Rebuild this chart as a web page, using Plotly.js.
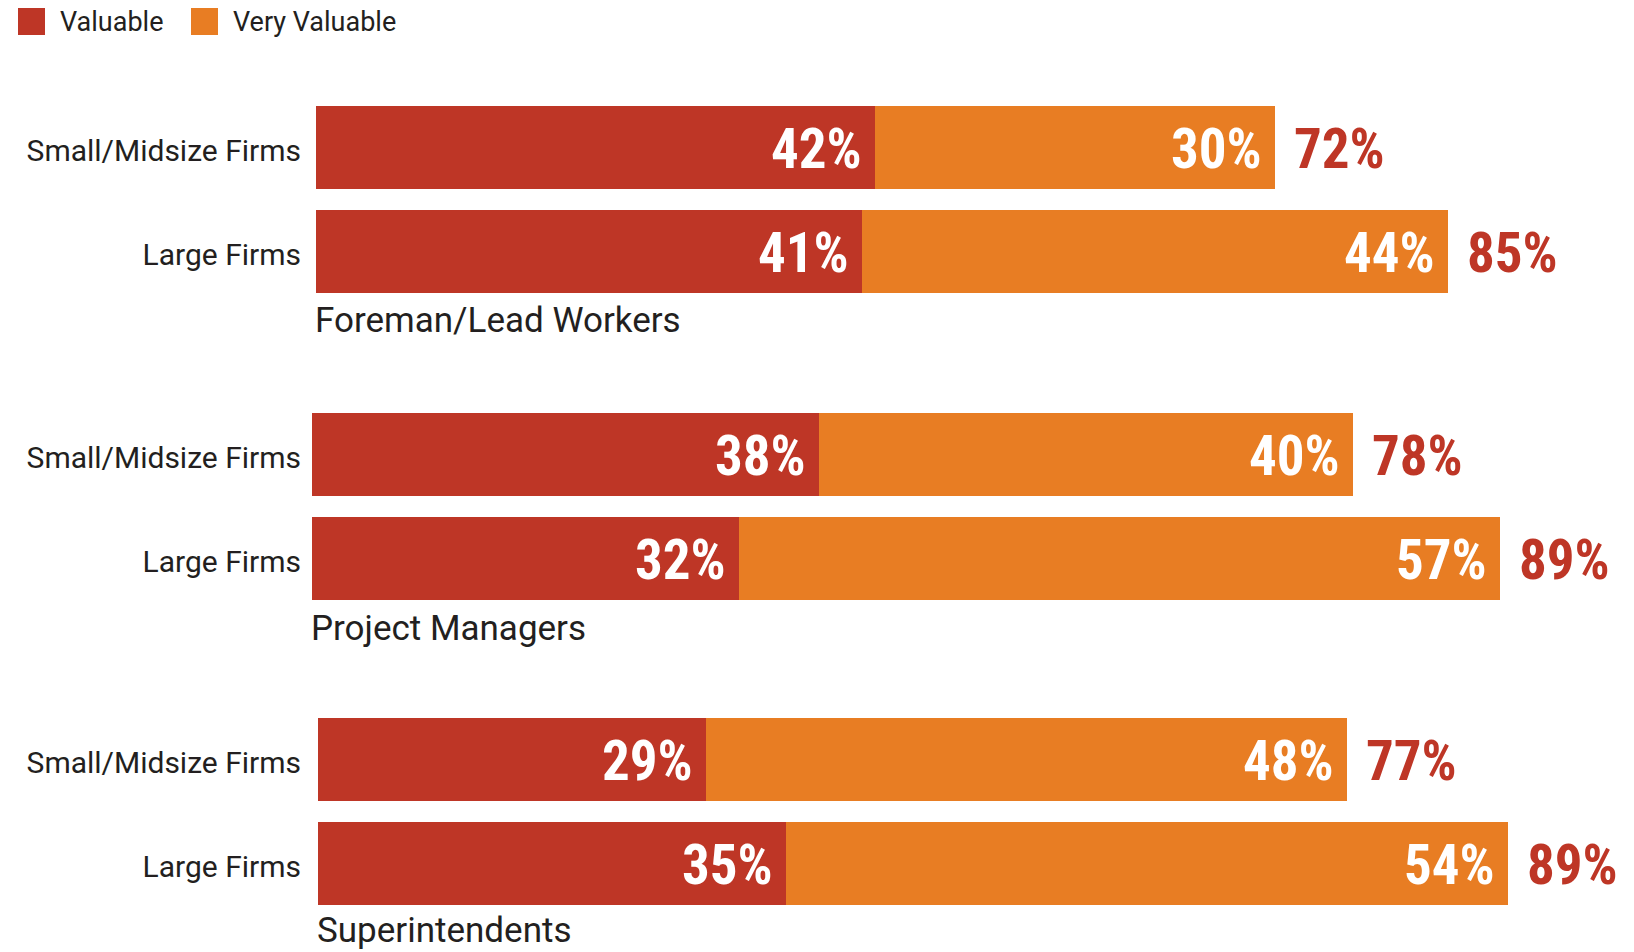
<!DOCTYPE html>
<html>
<head>
<meta charset="utf-8">
<script src="https://cdn.plot.ly/plotly-3.0.1.min.js"></script>
<style>
  html, body { margin: 0; padding: 0; background: #ffffff; }
  #chart { width: 1634px; height: 952px; }
</style>
</head>
<body>
<div id="chart"></div>
<script>
// ---- data ----
const groupNames = ['Foreman/Lead Workers', 'Project Managers', 'Superintendents'];
const firmTypes = ['Small/Midsize Firms', 'Large Firms'];
const seriesNames = ['Valuable', 'Very Valuable'];
const valuableForeman = [42, 41];
const veryValuableForeman = [30, 44];
const valuableProjectManagers = [38, 32];
const veryValuableProjectManagers = [40, 57];
const valuableSuperintendents = [29, 35];
const veryValuableSuperintendents = [48, 54];

// ---- style ----
const W = 1634, H = 952;
const RED = '#BE3626';
const ORANGE = '#E87D23';
const INK = '#231F20';
const textFont = 'Roboto, "Noto Sans", sans-serif';
const numFont = '"Liberation Sans Narrow", "Roboto Condensed", "DejaVu Sans Condensed", sans-serif';
const pxPerUnit = [13.32, 13.35, 13.37];
const xMax = 95;
const groupLeftPx = [316, 312, 318];
const groupTopPx = [95.5, 402.4, 707.4];
const groupHeightPx = 208;
const titleCenterPx = [320, 628, 930];
const standoffs = [14, 10, 16];

const valuableByGroup = [valuableForeman, valuableProjectManagers, valuableSuperintendents];
const veryByGroup = [veryValuableForeman, veryValuableProjectManagers, veryValuableSuperintendents];

const traces = [];
const annotations = [];
const layout = {
  width: W, height: H,
  margin: {l: 0, r: 0, t: 0, b: 0},
  paper_bgcolor: '#ffffff',
  plot_bgcolor: '#ffffff',
  barmode: 'stack',
  bargap: 0.2,
  showlegend: false,
  shapes: [],
  annotations: annotations
};

groupNames.forEach((g, i) => {
  const n = i === 0 ? '' : String(i + 1);
  const xa = 'x' + n, ya = 'y' + n;
  const val = valuableByGroup[i];
  const very = veryByGroup[i];
  traces.push({
    type: 'bar', orientation: 'h', name: seriesNames[0],
    x: val, y: firmTypes, xaxis: xa, yaxis: ya,
    marker: {color: RED, line: {width: 0}},
    hoverinfo: 'x+y+name'
  });
  traces.push({
    type: 'bar', orientation: 'h', name: seriesNames[1],
    x: very, y: firmTypes, xaxis: xa, yaxis: ya,
    marker: {color: ORANGE, line: {width: 0}},
    hoverinfo: 'x+y+name'
  });
  const left = groupLeftPx[i];
  layout['xaxis' + n] = {
    domain: [left / W, (left + xMax * pxPerUnit[i]) / W],
    range: [0, xMax],
    anchor: ya,
    visible: false,
    fixedrange: true
  };
  const top = groupTopPx[i];
  layout['yaxis' + n] = {
    domain: [1 - (top + groupHeightPx) / H, 1 - top / H],
    anchor: xa,
    type: 'category',
    categoryorder: 'array',
    categoryarray: firmTypes,
    range: [1.5, -0.5],
    showgrid: false, zeroline: false, showline: false,
    ticks: '',
    ticklabelstandoff: standoffs[i],
    ticklabelshift: -3,
    tickfont: {family: textFont, size: 30, color: INK},
    fixedrange: true
  };
  firmTypes.forEach((f, j) => {
    const total = val[j] + very[j];
    annotations.push({
      xref: xa, yref: ya, x: val[j], y: f,
      text: val[j] + '%', showarrow: false,
      xanchor: 'right', yanchor: 'middle', xshift: -11, yshift: -2,
      font: {family: numFont, size: 55, color: '#ffffff', weight: 'bold'}
    });
    annotations.push({
      xref: xa, yref: ya, x: total, y: f,
      text: very[j] + '%', showarrow: false,
      xanchor: 'right', yanchor: 'middle', xshift: -11, yshift: -2,
      font: {family: numFont, size: 55, color: '#ffffff', weight: 'bold'}
    });
    annotations.push({
      xref: xa, yref: ya, x: total, y: f,
      text: total + '%', showarrow: false,
      xanchor: 'left', yanchor: 'middle', xshift: 17, yshift: -2,
      font: {family: numFont, size: 55, color: RED, weight: 'bold'}
    });
  });
  annotations.push({
    xref: xa + ' domain', yref: 'paper', x: 0, y: 1 - titleCenterPx[i] / H,
    text: g, showarrow: false, xanchor: 'left', yanchor: 'middle', xshift: -3,
    font: {family: textFont, size: 35, color: INK}
  });
});

// legend (drawn manually for large square swatches)
const legendSwatchX = [18, 191];
const legendColors = [RED, ORANGE];
seriesNames.forEach((s, k) => {
  const x0 = legendSwatchX[k];
  layout.shapes.push({
    type: 'rect', xref: 'paper', yref: 'paper',
    x0: x0 / W, x1: (x0 + 27) / W, y0: 1 - 35 / H, y1: 1 - 8 / H,
    fillcolor: legendColors[k], line: {width: 0}
  });
  annotations.push({
    xref: 'paper', yref: 'paper', x: (x0 + 42) / W, y: 1 - 21.5 / H,
    text: s, showarrow: false, xanchor: 'left', yanchor: 'middle', xshift: -2,
    font: {family: textFont, size: 27, color: INK}
  });
});

Plotly.newPlot('chart', traces, layout, {displayModeBar: false, staticPlot: true});
</script>
</body>
</html>
